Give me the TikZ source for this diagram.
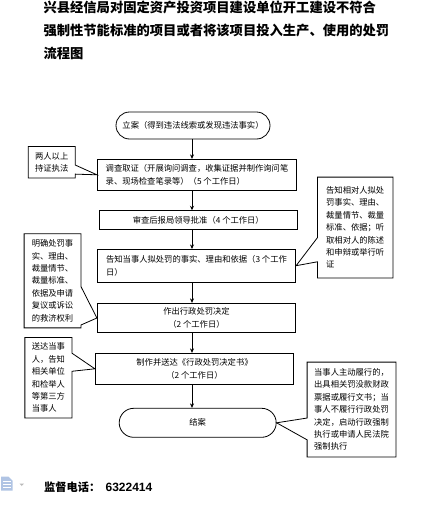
\documentclass[tikz,border=0pt]{standalone}
\usepackage{fontspec}
\setmainfont{Noto Sans CJK SC}
\newfontfamily\digitfont{Liberation Sans}
\usepackage{tikz}
\usetikzlibrary{arrows.meta,calc,shapes.misc}
\definecolor{cIcon}{RGB}{176,196,228}
\tikzset{
  >={Stealth[length=4.5pt,width=4pt]},
  proc/.style={draw,line width=0.8pt,inner sep=3pt,align=center,
               font=\fontsize{8.3}{12.6}\selectfont},
  procL/.style={proc,align=left},
  term/.style={proc,rounded rectangle},
  note/.style={inner sep=0pt,align=left,font=\fontsize{8.3}{12.4}\selectfont},
  flow/.style={->,line width=0.8pt},
  edge/.style={line width=0.8pt,line join=miter},
}

\begin{document}
\begin{tikzpicture}[x=1pt,y=-1pt]
  \useasboundingbox (0,0) rectangle (430,506);

  \node[anchor=west,inner sep=0pt,align=left,
        font=\fontsize{13.3}{23}\selectfont\bfseries] (title) at (43.3,30.8)
    {兴县经信局对固定资产投资项目建设单位开工建设不符合\\
     强制性节能标准的项目或者将该项目投入生产、使用的处罚\\
     流程图};

  % main flow
  \node[term,minimum width=160pt,minimum height=27pt] (start) at (193,125.5)
    {立案（得到违法线索或发现违法事实）};
  \node[procL,minimum width=199.4pt,minimum height=31pt] (s1) at (197,174.8)
    {调查取证（开展询问调查，收集证据并制作询问笔\\录、现场检查笔录等）（5 个工作日）};
  \node[proc,minimum width=198pt,minimum height=18.6pt] (s2) at (198.3,220)
    {审查后报局领导批准（4 个工作日）};
  \node[procL,minimum width=198.4pt,minimum height=32.7pt] (s3) at (196.5,265.7)
    {告知当事人拟处罚的事实、理由和依据（3 个工作\\日）};
  \node[proc,minimum width=198.4pt,minimum height=29.4pt] (s4) at (196.5,318)
    {作出行政处罚决定\\（2 个工作日）};
  \node[proc,minimum width=198.4pt,minimum height=31pt] (s5) at (194.5,368.8)
    {制作并送达《行政处罚决定书》\\（2 个工作日）};
  \node[term,minimum width=163pt,minimum height=29pt] (fin) at (197.7,422.8)
    {结案};

  \coordinate (spine) at (192,0);
  \foreach \a/\b in {start/s1,s1/s2,s2/s3,s3/s4,s4/s5,s5/fin}
    \draw[flow] (\a.south -| spine) -- (\b.north -| spine);

  % side notes
  \node[note,minimum width=46.7pt,minimum height=31pt] (n1) at (51.7,162.2)
    {两人以上\\持证执法};
  \node[note,minimum width=75pt,minimum height=100.4pt] (n2) at (355.2,227.5)
    {告知相对人拟处\\罚事实、理由、\\裁量情节、裁量\\标准、依据；听\\取相对人的陈述\\和申辩或举行听\\证};
  \node[note,minimum width=56.4pt,minimum height=93.7pt] (n3) at (52.5,280.8)
    {明确处罚事\\实、理由、\\裁量情节、\\裁量标准、\\依据及申请\\复议或诉讼\\的救济权利};
  \node[note,minimum width=46.7pt,minimum height=80pt] (n4) at (48.4,377.7)
    {送达当事\\人，告知\\相关单位\\和检举人\\等第三方\\当事人};
  \node[note,minimum width=88.4pt,minimum height=94.4pt] (n5) at (351.5,409.5)
    {当事人主动履行的，\\出具相关罚没款财政\\票据或履行文书；当\\事人不履行行政处罚\\决定，启动行政强制\\执行或申请人民法院\\强制执行};

  \newcommand{\noteE}[4]{% pointer leaves the east side of #1
    \draw[edge] (#1.north west) -- (#1.north east)
      -- ($(#1.north east)!#2!(#1.south east)$) -- (#4)
      -- ($(#1.north east)!#3!(#1.south east)$) -- (#1.south east)
      -- (#1.south west) -- cycle;}
  \newcommand{\noteW}[4]{% pointer leaves the west side of #1
    \draw[edge] (#1.north east) -- (#1.north west)
      -- ($(#1.north west)!#2!(#1.south west)$) -- (#4)
      -- ($(#1.north west)!#3!(#1.south west)$) -- (#1.south west)
      -- (#1.south east) -- cycle;}
  \noteE{n1}{0.59}{0.88}{s1.west}
  \noteW{n2}{0.6}{0.84}{s3.east}
  \noteE{n3}{0.56}{0.97}{s4.west}
  \noteE{n4}{0.195}{0.42}{s5.west}
  \noteW{n5}{0.59}{0.82}{fin.east}

  % footer
  \fill[cIcon] (1,476.5) -- (8.5,476.5) -- (12.5,480.5) -- (12.5,490.5) -- (1,490.5) -- cycle;
  \foreach \yy in {481.5,484.5,487.5}
    \draw[white,line width=1pt] (3,\yy) -- (10.5,\yy);
  \fill[gray!55] (19.5,483.5) -- (24,483.5) -- (21.75,486) -- cycle;
  \node[anchor=base west,inner sep=0pt,font=\fontsize{11.2}{12}\selectfont\bfseries]
    (tel) at (44,491.5) {监督电话：};
  \node[anchor=base west,inner sep=0pt,font=\digitfont\fontsize{12}{12}\selectfont\bfseries]
    (telno) at ($(tel.base east)+(5,0)$) {6322414};
\end{tikzpicture}
\end{document}
